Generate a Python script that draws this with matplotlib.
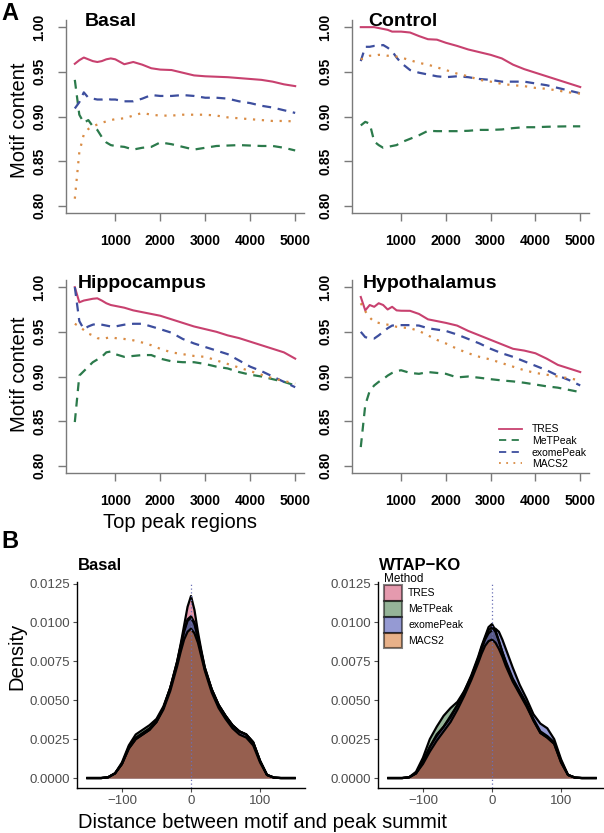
import matplotlib
matplotlib.use('Agg')
import matplotlib.pyplot as plt
from matplotlib.patches import Patch
from matplotlib.lines import Line2D

plt.rcParams['font.family'] = ['Liberation Sans', 'DejaVu Sans']

# ---- Panel A data: motif content vs top peak regions ----
methods = ['TRES', 'MeTPeak', 'exomePeak', 'MACS2']
top_n = [100, 200, 300, 400, 500, 600, 700, 800, 900, 1000, 1200, 1400, 1600, 1800, 2000,
         2250, 2500, 2750, 3000, 3250, 3500, 3750, 4000, 4250, 4500, 4750, 5000]

basal_tres = [0.959, 0.963, 0.966, 0.964, 0.962, 0.961, 0.962, 0.964, 0.965, 0.964, 0.9585, 0.961, 0.958, 0.954,
              0.9525, 0.952, 0.949, 0.946, 0.945, 0.9445, 0.944, 0.943, 0.942, 0.941, 0.939, 0.936, 0.934]
basal_metpeak = [0.941, 0.902, 0.893, 0.896, 0.889, 0.885, 0.877, 0.871, 0.868, 0.867, 0.866, 0.863, 0.865, 0.866,
                 0.871, 0.869, 0.866, 0.863, 0.865, 0.867, 0.8675, 0.868, 0.8675, 0.867, 0.867, 0.865, 0.862]
basal_exome = [0.909, 0.916, 0.927, 0.921, 0.920, 0.919, 0.919, 0.920, 0.919, 0.919, 0.917, 0.917, 0.920, 0.924,
               0.923, 0.923, 0.924, 0.923, 0.921, 0.921, 0.920, 0.917, 0.915, 0.912, 0.910, 0.907, 0.904]
basal_macs2 = [0.808, 0.860, 0.880, 0.886, 0.889, 0.891, 0.893, 0.8945, 0.896, 0.897, 0.898, 0.901, 0.904, 0.902,
               0.901, 0.901, 0.902, 0.902, 0.902, 0.901, 0.899, 0.898, 0.897, 0.896, 0.895, 0.895, 0.8945]

control_tres = [1.0, 1.0, 1.0, 1.0, 0.999, 0.998, 0.997, 0.995, 0.995, 0.995, 0.994, 0.990, 0.9865, 0.986,
                0.9825, 0.979, 0.975, 0.972, 0.969, 0.965, 0.958, 0.953, 0.949, 0.945, 0.941, 0.937, 0.933]
control_metpeak = [0.890, 0.894, 0.892, 0.872, 0.868, 0.865, 0.866, 0.867, 0.868, 0.871, 0.875, 0.879, 0.884, 0.8836,
                   0.8836, 0.8836, 0.884, 0.885, 0.885, 0.8855, 0.887, 0.888, 0.888, 0.8885, 0.8888, 0.889, 0.889]
control_exome = [0.962, 0.978, 0.978, 0.979, 0.979, 0.980, 0.977, 0.973, 0.966, 0.960, 0.952, 0.949, 0.947, 0.945,
                 0.944, 0.945, 0.944, 0.942, 0.941, 0.939, 0.939, 0.939, 0.937, 0.935, 0.932, 0.929, 0.926]
control_macs2 = [0.964, 0.966, 0.968, 0.968, 0.969, 0.969, 0.968, 0.968, 0.967, 0.966, 0.963, 0.960, 0.958, 0.955,
                 0.952, 0.948, 0.945, 0.941, 0.939, 0.9365, 0.935, 0.934, 0.932, 0.931, 0.929, 0.927, 0.9256]

hippo_tres = [1.0, 0.983, 0.985, 0.986, 0.987, 0.9875, 0.985, 0.982, 0.980, 0.979, 0.977, 0.974, 0.972, 0.970,
              0.968, 0.964, 0.960, 0.956, 0.953, 0.950, 0.946, 0.943, 0.939, 0.935, 0.931, 0.927, 0.920]
hippo_metpeak = [0.849, 0.901, 0.906, 0.911, 0.916, 0.919, 0.922, 0.927, 0.928, 0.925, 0.922, 0.923, 0.924, 0.924,
                 0.920, 0.917, 0.916, 0.916, 0.914, 0.911, 0.909, 0.905, 0.902, 0.900, 0.897, 0.894, 0.890]
hippo_exome = [1.0, 0.962, 0.953, 0.956, 0.958, 0.959, 0.958, 0.957, 0.956, 0.956, 0.958, 0.959, 0.959, 0.956,
               0.953, 0.949, 0.942, 0.937, 0.933, 0.929, 0.925, 0.918, 0.911, 0.906, 0.900, 0.894, 0.888]
hippo_macs2 = [0.959, 0.956, 0.952, 0.948, 0.946, 0.943, 0.942, 0.943, 0.944, 0.943, 0.942, 0.9405, 0.938, 0.935,
               0.931, 0.927, 0.925, 0.923, 0.922, 0.918, 0.914, 0.910, 0.906, 0.902, 0.898, 0.895, 0.892]

hypo_tres = [0.989, 0.974, 0.980, 0.978, 0.982, 0.980, 0.975, 0.978, 0.974, 0.9736, 0.9735, 0.970, 0.964, 0.962,
             0.960, 0.957, 0.951, 0.946, 0.941, 0.936, 0.931, 0.929, 0.926, 0.920, 0.913, 0.909, 0.905]
hypo_metpeak = [0.821, 0.868, 0.884, 0.890, 0.894, 0.897, 0.901, 0.904, 0.906, 0.907, 0.904, 0.903, 0.905, 0.904,
                0.903, 0.899, 0.900, 0.8986, 0.897, 0.8956, 0.8945, 0.893, 0.891, 0.889, 0.8875, 0.885, 0.8825]
hypo_exome = [0.950, 0.944, 0.943, 0.9425, 0.946, 0.950, 0.954, 0.957, 0.9575, 0.9575, 0.9575, 0.957, 0.954, 0.9525,
              0.951, 0.947, 0.942, 0.937, 0.931, 0.926, 0.922, 0.917, 0.912, 0.907, 0.901, 0.896, 0.890]
hypo_macs2 = [0.982, 0.973, 0.966, 0.961, 0.960, 0.959, 0.958, 0.957, 0.9556, 0.955, 0.954, 0.951, 0.946, 0.941,
              0.937, 0.931, 0.926, 0.922, 0.919, 0.915, 0.911, 0.907, 0.904, 0.902, 0.900, 0.898, 0.8956]

# ---- Panel B data: density of motif-to-summit distance ----
dist = [-150, -140, -130, -120, -110, -100, -90, -80, -70, -60, -50, -40, -30, -20, -15, -10, -5, 0,
        5, 10, 15, 20, 30, 40, 50, 60, 70, 80, 90, 100, 110, 120, 130, 140, 150]

b_tres = [0, 0, 0, 0.00005, 0.0003, 0.0009, 0.0019, 0.0025, 0.0028, 0.0031, 0.0036, 0.0045, 0.0058, 0.0075,
          0.0086, 0.0098, 0.0110, 0.0117, 0.0108, 0.0094, 0.0082, 0.0071, 0.0057, 0.0047, 0.0040, 0.0034,
          0.0030, 0.0028, 0.0023, 0.0011, 0.0002, 0.00003, 0, 0, 0]
b_metpeak = [0, 0, 0, 0.00005, 0.0003, 0.0010, 0.0021, 0.0028, 0.0031, 0.0034, 0.0038, 0.0046, 0.0058, 0.0074,
             0.0084, 0.0094, 0.0101, 0.0103, 0.0099, 0.0090, 0.0080, 0.0070, 0.0057, 0.0047, 0.0040, 0.0034,
             0.0030, 0.0028, 0.0023, 0.0011, 0.0002, 0.00003, 0, 0, 0]
b_exome = [0, 0, 0, 0.00005, 0.0003, 0.0009, 0.0020, 0.0026, 0.0029, 0.0032, 0.0037, 0.0045, 0.0058, 0.0075,
           0.0085, 0.0095, 0.0102, 0.0104, 0.0100, 0.0091, 0.0081, 0.0071, 0.0057, 0.0047, 0.0040, 0.0034,
           0.0030, 0.0028, 0.0023, 0.0011, 0.0002, 0.00003, 0, 0, 0]
b_macs2 = [0, 0, 0, 0.00005, 0.0003, 0.0009, 0.0019, 0.0025, 0.0028, 0.0031, 0.0036, 0.0044, 0.0056, 0.0072,
           0.0081, 0.0089, 0.0094, 0.0096, 0.0093, 0.0087, 0.0078, 0.0069, 0.0055, 0.0045, 0.0038, 0.0032,
           0.0028, 0.0026, 0.0021, 0.0010, 0.0002, 0.00003, 0, 0, 0]

ko_tres = [0, 0, 0, 0.00005, 0.0003, 0.0011, 0.0020, 0.0028, 0.0033, 0.0039, 0.0047, 0.0056, 0.0066, 0.0078,
           0.0085, 0.0091, 0.0097, 0.0099, 0.0095, 0.0088, 0.0081, 0.0075, 0.0064, 0.0056, 0.0048, 0.0038,
           0.0030, 0.0027, 0.0023, 0.0011, 0.0002, 0.00003, 0, 0, 0]
ko_metpeak = [0, 0, 0, 0.00005, 0.0004, 0.0013, 0.0025, 0.0033, 0.0040, 0.0045, 0.0049, 0.0056, 0.0065, 0.0077,
              0.0084, 0.0090, 0.0095, 0.0097, 0.0094, 0.0088, 0.0081, 0.0074, 0.0063, 0.0055, 0.0047, 0.0037,
              0.0029, 0.0026, 0.0022, 0.0010, 0.0002, 0.00003, 0, 0, 0]
ko_exome = [0, 0, 0, 0.00005, 0.0003, 0.0010, 0.0020, 0.0027, 0.0033, 0.0040, 0.0047, 0.0055, 0.0065, 0.0076,
            0.0083, 0.0089, 0.0093, 0.0095, 0.0096, 0.0094, 0.0089, 0.0083, 0.0071, 0.0060, 0.0051, 0.0041,
            0.0035, 0.0032, 0.0025, 0.0012, 0.0002, 0.00003, 0, 0, 0]
ko_macs2 = [0, 0, 0, 0.00005, 0.0003, 0.0009, 0.0017, 0.0024, 0.0030, 0.0036, 0.0044, 0.0053, 0.0063, 0.0074,
            0.0080, 0.0085, 0.0088, 0.0089, 0.0087, 0.0083, 0.0078, 0.0072, 0.0062, 0.0054, 0.0046, 0.0037,
            0.0029, 0.0026, 0.0022, 0.0010, 0.0002, 0.00003, 0, 0, 0]

line_colors = ['#C8416F', '#2B7A4B', '#3D4E9E', '#D98C45']
line_styles = ['-', (0, (4, 3)), (0, (4, 3)), (0, (1, 3))]
fill_colors = ['#CD375F', '#2D6A32', '#2D37A8', '#D26414']

W, H = 604, 833
fig = plt.figure(figsize=(W / 100, H / 100), dpi=100)


def fx(px):
    return px / W


def fy(py):
    return 1 - py / H


panels_a = [
    ('Basal', [basal_tres, basal_metpeak, basal_exome, basal_macs2], (66, 20, 304, 213), 85, 22),
    ('Control', [control_tres, control_metpeak, control_exome, control_macs2], (352, 20, 589, 213), 368, 22),
    ('Hippocampus', [hippo_tres, hippo_metpeak, hippo_exome, hippo_macs2], (66, 280, 304, 473), 78, 283),
    ('Hypothalamus', [hypo_tres, hypo_metpeak, hypo_exome, hypo_macs2], (352, 280, 589, 473), 363, 283),
]

axis_grey = '#7a7a7a'
for i, (name, series, box, tx, ty) in enumerate(panels_a):
    x0, y0, x1, y1 = box
    ax = fig.add_axes([fx(x0), fy(y1), (x1 - x0) / W, (y1 - y0) / H])
    for vals, c, ls in zip(series, line_colors, line_styles):
        lw = 1.5 if ls == '-' else 1.6
        ax.plot(top_n, vals, color=c, linestyle=ls, lw=lw)
    ax.set_xlim(-96, 5196)
    ax.set_ylim(0.792, 1.008)
    ax.set_xticks([1000, 2000, 3000, 4000, 5000])
    ax.set_yticks([0.80, 0.85, 0.90, 0.95, 1.00])
    ax.set_yticklabels(['0.80', '0.85', '0.90', '0.95', '1.00'], rotation=90, va='center')
    for s in ['top', 'right']:
        ax.spines[s].set_visible(False)
    for s in ['left', 'bottom']:
        ax.spines[s].set_color(axis_grey)
        ax.spines[s].set_linewidth(1.0)
    ax.tick_params(axis='both', direction='out', length=6, width=1.0, color=axis_grey,
                   labelsize=10)
    ax.tick_params(axis='x', pad=9)
    ax.tick_params(axis='y', pad=8)
    for lab in ax.get_xticklabels() + ax.get_yticklabels():
        lab.set_fontweight('bold')
    fig.text(fx(tx), fy(ty), name, fontsize=14, fontweight='bold', ha='left', va='center')
    if name == 'Hypothalamus':
        handles = [Line2D([], [], color=c, linestyle=ls, lw=1.3) for c, ls in zip(line_colors, line_styles)]
        ax.legend(handles, methods, loc='lower right', bbox_to_anchor=(0.99, 0.02), frameon=False,
                  fontsize=7.5, handlelength=2.2, handletextpad=0.9, labelspacing=0.15,
                  borderpad=0, borderaxespad=0)

fig.text(fx(20), fy(120), 'Motif content', rotation=90, fontsize=14.5, ha='center', va='center')
fig.text(fx(20), fy(374), 'Motif content', rotation=90, fontsize=14.5, ha='center', va='center')
fig.text(fx(180), fy(523), 'Top peak regions', fontsize=14.5, ha='center', va='center')
fig.text(fx(1), fy(13), 'A', fontsize=17, fontweight='bold', ha='left', va='center')
fig.text(fx(1), fy(541), 'B', fontsize=17, fontweight='bold', ha='left', va='center')

# ---- Panel B ----
panels_b = [
    ('Basal', [b_tres, b_metpeak, b_exome, b_macs2], 77),
    ('WTAP\u2212KO', [ko_tres, ko_metpeak, ko_exome, ko_macs2], 378),
]
tick_grey = '#4d4d4d'
for j, (name, dens, left) in enumerate(panels_b):
    ax = fig.add_axes([fx(left), fy(788), 228 / W, 206 / H])
    for d, c in zip(dens, fill_colors):
        ax.fill_between(dist, d, color=c, alpha=0.5, lw=0)
        ax.plot(dist, d, color='black', lw=1.6)
    ax.axvline(0, color='#6b70b5', linestyle=(0, (1, 2)), lw=0.9)
    ax.set_xlim(-165, 165)
    ax.set_ylim(-0.00064, 0.0126)
    ax.set_xticks([-100, 0, 100])
    ax.set_xticklabels(['\u2212100', '0', '100'])
    ax.set_yticks([0, 0.0025, 0.005, 0.0075, 0.01, 0.0125])
    ax.set_yticklabels(['0.0000', '0.0025', '0.0050', '0.0075', '0.0100', '0.0125'])
    for s in ['top', 'right']:
        ax.spines[s].set_visible(False)
    for s in ['left', 'bottom']:
        ax.spines[s].set_color('black')
        ax.spines[s].set_linewidth(1.0)
    ax.tick_params(axis='both', direction='out', length=3, width=0.8, color=tick_grey,
                   labelcolor=tick_grey, labelsize=9.5, pad=2)
    fig.text(fx(left + 1), fy(565), name, fontsize=12, fontweight='bold', ha='left', va='center')
    if j == 1:
        handles = [Patch(facecolor=c, alpha=0.5, edgecolor='black', lw=1.5) for c in fill_colors]
        leg = ax.legend(handles, methods, title='Method', loc='upper left', bbox_to_anchor=(0.025, 1.045),
                        frameon=False, fontsize=7.5, title_fontsize=8.5, handlelength=1.75, handleheight=1.9,
                        handletextpad=0.6, labelspacing=0.05, borderpad=0, borderaxespad=0)
        leg._legend_box.align = 'left'
        for h in leg.legend_handles:
            h.set_edgecolor('black')

fig.text(fx(17), fy(656), 'Density', rotation=90, fontsize=14.5, ha='center', va='center')
fig.text(fx(262), fy(823), 'Distance between motif and peak summit', fontsize=14.5, ha='center', va='center')

fig.savefig('out.png', dpi=100)
